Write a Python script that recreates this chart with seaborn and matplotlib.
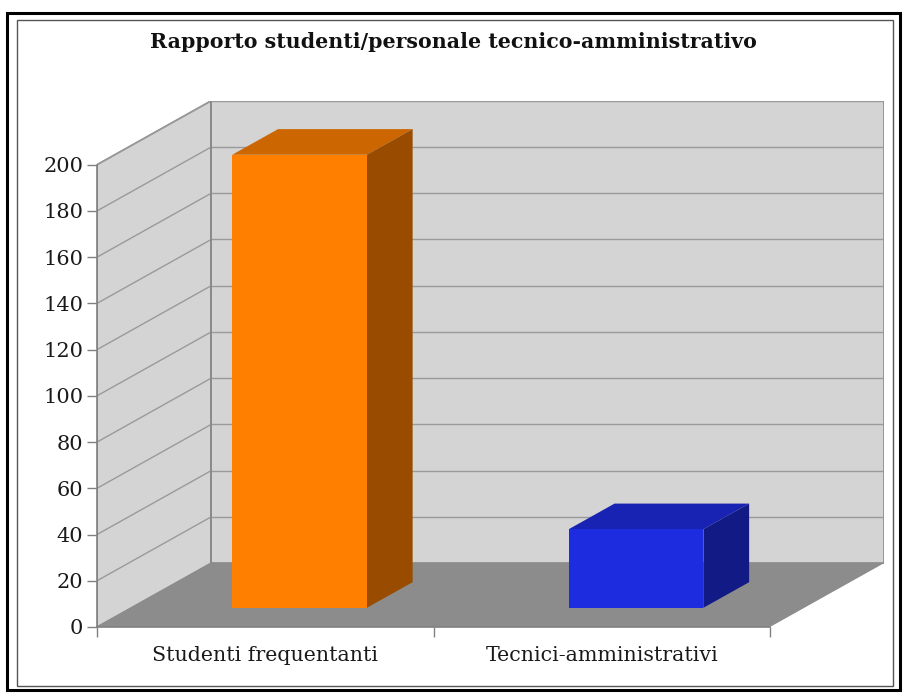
import matplotlib
matplotlib.use("Agg")
import matplotlib.pyplot as plt
import seaborn as sns
import numpy as np
from matplotlib.patches import Polygon, Rectangle
from matplotlib.colors import to_rgb

# ---- data ----
categories = ["Studenti frequentanti", "Tecnici-amministrativi"]
values = [196, 34]
bar_colors = ["#ff7f00", "#1e2ce0"]
yticks = [0, 20, 40, 60, 80, 100, 120, 140, 160, 180, 200]
title = "Rapporto studenti/personale tecnico-amministrativo"

# ---- 3D-look parameters (styling) ----
W, H = 905, 693
DX = 0.34           # depth offset in category units
DY = 27.7           # depth offset in value units
YMAX = 200
BAR_FRONT = 0.30    # bar front position within depth
BAR_DEPTH = 0.40    # bar depth fraction

sns.set_theme(style="white")
plt.rcParams["font.family"] = ["DejaVu Serif"]

fig = plt.figure(figsize=(W / 100, H / 100), dpi=100)
fig.patch.set_facecolor("white")

px_per_cat = 336.5
px_per_val = 2.3115
ax_left = 97
ax_bottom = 627
ax_w = (2 + DX) * px_per_cat
ax_h = (YMAX + DY) * px_per_val
ax = fig.add_axes([ax_left / W, 1 - ax_bottom / H, ax_w / W, ax_h / H])
ax.set_facecolor("none")

wall_c = "#d4d4d4"
floor_c = "#8c8c8c"
edge_c = "#8a8a8a"
grid_c = "#9a9a9a"

x0, x1 = -0.5, len(categories) - 0.5
# left wall
ax.add_patch(Polygon([(x0, 0), (x0, YMAX), (x0 + DX, YMAX + DY), (x0 + DX, DY)],
                     closed=True, facecolor=wall_c, edgecolor=edge_c, lw=1.2, zorder=1))
# back wall
ax.add_patch(Polygon([(x0 + DX, DY), (x1 + DX, DY), (x1 + DX, YMAX + DY), (x0 + DX, YMAX + DY)],
                     closed=True, facecolor=wall_c, edgecolor=edge_c, lw=1.2, zorder=1))
# floor
ax.add_patch(Polygon([(x0, 0), (x1, 0), (x1 + DX, DY), (x0 + DX, DY)],
                     closed=True, facecolor=floor_c, edgecolor="none", zorder=1.5))
# gridlines
for v in yticks[1:]:
    ax.plot([x0, x0 + DX], [v, v + DY], color=grid_c, lw=1.0, zorder=2)
    ax.plot([x0 + DX, x1 + DX], [v + DY, v + DY], color=grid_c, lw=1.0, zorder=2)
ax.plot([x0 + DX, x0 + DX], [DY, YMAX + DY], color=edge_c, lw=1.3, zorder=2)

# bars
sns.barplot(x=categories, y=values, hue=categories, palette=bar_colors, width=0.4,
            saturation=1, legend=False, ax=ax, zorder=4, linewidth=0)

bars = [p for p in ax.patches if isinstance(p, Rectangle)]
for p, c in zip(bars, bar_colors):
    bx = p.get_x() + BAR_FRONT * DX
    by = BAR_FRONT * DY
    w = p.get_width()
    h = p.get_height()
    p.set_x(bx)
    p.set_y(by)
    rgb = np.array(to_rgb(c))
    ddx, ddy = BAR_DEPTH * DX, BAR_DEPTH * DY
    top = Polygon([(bx, by + h), (bx + w, by + h), (bx + w + ddx, by + h + ddy), (bx + ddx, by + h + ddy)],
                  closed=True, facecolor=rgb * 0.8, edgecolor="none", zorder=3.9)
    side = Polygon([(bx + w, by), (bx + w + ddx, by + ddy), (bx + w + ddx, by + h + ddy), (bx + w, by + h)],
                   closed=True, facecolor=rgb * 0.6, edgecolor="none", zorder=3.9)
    ax.add_patch(top)
    ax.add_patch(side)

ax.set_xlim(x0, x1 + DX)
ax.set_ylim(0, YMAX + DY)

# axes styling
for s in ["top", "right"]:
    ax.spines[s].set_visible(False)
for s in ["left", "bottom"]:
    ax.spines[s].set_color("#808080")
    ax.spines[s].set_linewidth(1.2)
    ax.spines[s].set_zorder(5)
ax.spines["left"].set_bounds(0, YMAX)
ax.spines["bottom"].set_bounds(x0, x1)

ax.set_yticks(yticks)
ax.set_yticklabels([str(v) for v in yticks], fontsize=15, color="#1a1a1a")
ax.tick_params(axis="y", length=7, width=1, color="#808080", direction="out", pad=3, left=True)

ax.set_xticks(range(len(categories)))
ax.set_xticklabels(categories, fontsize=14.8, color="#1a1a1a")
ax.set_xticks([x0 + i for i in range(len(categories) + 1)], minor=True)
ax.tick_params(axis="x", which="major", length=0, pad=14)
ax.tick_params(axis="x", which="minor", length=7, width=1, color="#808080", direction="out", bottom=True)
ax.set_xlabel("")
ax.set_ylabel("")

fig.text(453 / W, 1 - 42 / H, title, ha="center", va="center", fontsize=14.8,
         fontweight="bold", color="#111111")

# frame
fig.patches.append(Rectangle((7 / W, 1 - 690 / H), (900 - 7) / W, (690 - 13) / H,
                             transform=fig.transFigure, fill=False, edgecolor="black", lw=2.2))
fig.patches.append(Rectangle((17 / W, 1 - 686 / H), (893 - 17) / W, (686 - 20) / H,
                             transform=fig.transFigure, fill=False, edgecolor="#555555", lw=1.0))

fig.savefig("out.png", dpi=100)
